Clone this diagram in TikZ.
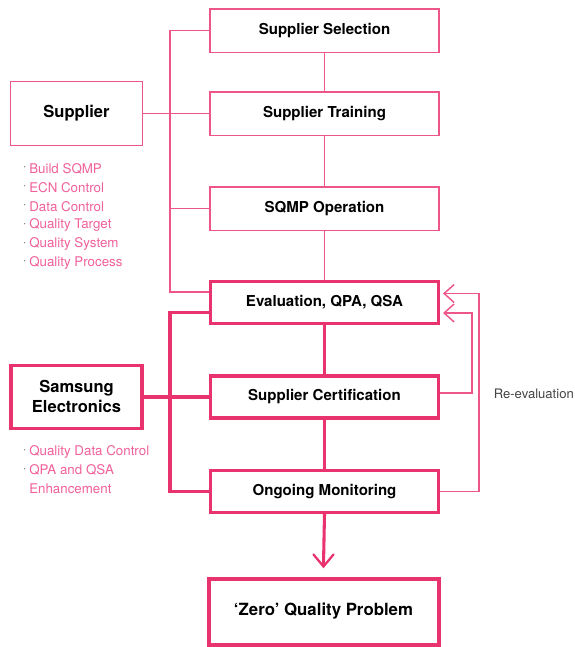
\documentclass[tikz,border=0pt]{standalone}
\usepackage{fontspec}
\setmainfont{TeX Gyre Heros}
\usetikzlibrary{arrows.meta,calc}
\definecolor{pk}{HTML}{E8336F}
\definecolor{pkl}{HTML}{EE5589}
\definecolor{pktxt}{HTML}{F0609A}
\definecolor{gr}{HTML}{444444}
\tikzset{
  thinbox/.style={draw=pkl, line width=1.1pt, minimum width=172pt, minimum height=32.6pt, inner sep=0pt, font=\bfseries\fontsize{11.3}{13}\selectfont},
  thickbox/.style={draw=pk, line width=2.3pt, minimum width=171pt, minimum height=31.5pt, inner sep=0pt, font=\bfseries\fontsize{11.3}{13}\selectfont},
  thinl/.style={draw=pkl, line width=1.1pt},
  thickl/.style={draw=pk, line width=2.3pt},
  listtxt/.style={anchor=west, inner sep=0pt, text=pktxt, font=\fontsize{10}{12}\selectfont},
  dotmark/.style={anchor=west, inner sep=0pt, text=gr!70, font=\fontsize{10}{12}\selectfont},
  barb/.style={-{Straight Barb[length=7.5pt,width=13.5pt,line width=1.1pt]}},
  vhead/.style={draw=pk, line width=1.7pt, line cap=round, line join=miter}
}
\begin{document}
\begin{tikzpicture}[x=0.75pt,y=-0.75pt]
\useasboundingbox (0,0) rectangle (575,647);
% right column boxes
\node[thinbox] (sel) at (324.5,30.5) {Supplier Selection};
\node[thinbox] (train) at (324.5,113.5) {Supplier Training};
\node[thinbox] (sqmp) at (324.5,208.5) {SQMP Operation};
\node[thickbox] (eval) at (324.5,302.5) {Evaluation, QPA, QSA};
\node[thickbox] (cert) at (324.5,397) {Supplier Certification};
\node[thickbox] (mon) at (324.5,491.5) {Ongoing Monitoring};
\node[draw=pk, line width=3pt, minimum width=172.5pt, minimum height=49.5pt, inner sep=0pt,
      font=\bfseries\fontsize{12.6}{15}\selectfont] (zero) at (323.5,611.5) {‘Zero’ Quality Problem};
% left boxes
\node[draw=pkl, line width=1.1pt, minimum width=99pt, minimum height=48pt, inner sep=0pt,
      font=\bfseries\fontsize{12.4}{15}\selectfont] (sup) at (76.5,113.5) {Supplier};
\node[draw=pk, line width=2.6pt, minimum width=98.5pt, minimum height=47.5pt, inner sep=0pt, align=center,
      font=\bfseries\fontsize{12.4}{15}\selectfont] (sam) at (76.5,397) {\raisebox{1.5pt}{Samsung}\\\raisebox{1.5pt}{Electronics}};
% lists
\foreach \t [count=\i] in {Build SQMP,ECN Control,Data Control,Quality Target,Quality System,Quality Process}{
  \node[listtxt] (sl\i) at (29,150+18.8*\i) {\t};
  \node[dotmark] (sd\i) at (22.5,150+18.8*\i) {·};
}
\node[listtxt] (el1) at (29,451.5) {Quality Data Control};
\node[dotmark] (ed1) at (22.5,451.5) {·};
\node[listtxt] (el2) at (29,470) {QPA and QSA};
\node[dotmark] (ed2) at (22.5,470) {·};
\node[listtxt] (el3) at (29,488.5) {Enhancement};
\node[anchor=west, inner sep=0pt, text=gr, font=\fontsize{9.8}{12}\selectfont] (re) at (493.5,394) {Re-evaluation};
% coordinates
\coordinate (tl) at (170,292);
\coordinate (bl) at (170,491.5);
\coordinate (r1) at (472,313);
\coordinate (r2) at (479,293.5);
\coordinate (tip) at ($(zero.north)+(0,-10)$);
% thin left spine
\draw[thinl] (sel.west) -| (tl) -- ($(eval.west)+(0,-10.5)$);
\draw[thinl] (sup.east) -- (train.west);
\draw[thinl] (sqmp.west) -- (sqmp.west -| tl);
% thick left spine
\draw[thickl] ($(eval.west)+(0,10)$) -| (bl) -- (mon.west);
\draw[thickl] (sam.east) -- (cert.west);
% centre spine
\draw[thinl] (sel) -- (train);
\draw[thinl] (train) -- (sqmp);
\draw[thinl] (sqmp) -- (eval);
\draw[thickl] (eval) -- (cert);
\draw[thickl] (cert) -- (mon);
\draw[thickl] (mon.south) -- ($(tip)+(0,-1.5)$);
\draw[vhead] ($(tip)+(-10,-12)$) -- (tip) -- ($(tip)+(10,-12)$);
% feedback
\draw[thinl,barb] ($(cert.east)+(0,-4)$) -| (r1) -- ($(eval.east)+(3,10.5)$);
\draw[thinl] ($(cert.east)+(0,6)$) -- ($(cert.east)+(0,6)$ -| r2);
\draw[thinl,barb] (mon.east) -| (r2) -- ($(eval.east)+(3,-9)$);
\end{tikzpicture}
\end{document}
